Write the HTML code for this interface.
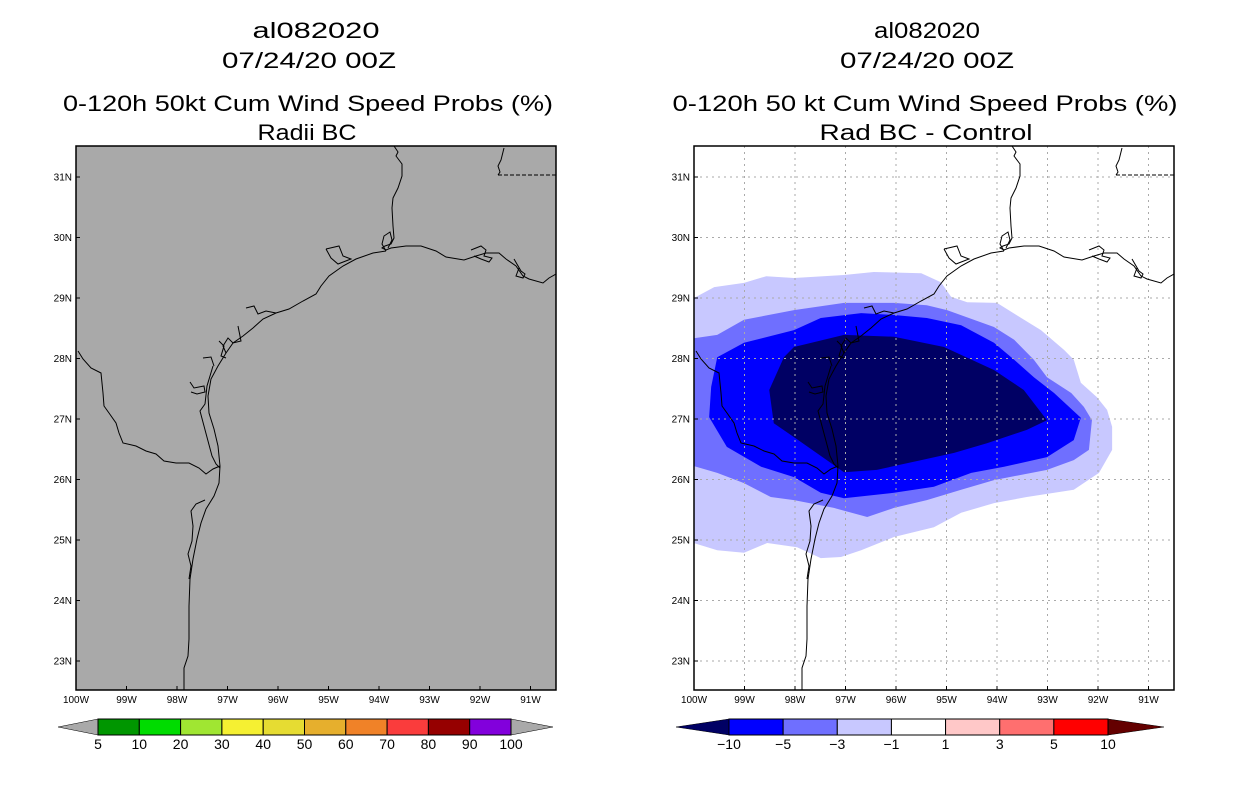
<!DOCTYPE html>
<html><head><meta charset="utf-8"><style>
html,body{margin:0;padding:0;background:#fff;}
svg{display:block;font-family:"Liberation Sans",sans-serif;}
</style></head><body>
<svg id="root" width="1236" height="800" viewBox="0 0 1236 800" xmlns="http://www.w3.org/2000/svg">
<defs>
<clipPath id="clipL"><rect x="76" y="146" width="480" height="544"/></clipPath>
<clipPath id="clipR"><rect x="694" y="146" width="480" height="544"/></clipPath>
<g id="coast" fill="none" stroke="#000" stroke-width="1">
<polyline points="318,0 322,6 320,10 326,18 326,30 322,42 317,52 316,62 317,80 318,92 315,98 309,100 306,102 310,104 315,102 330,100 345,100 360,105 370,111 388,114 400,110 410,107 423,107 430,113 440,120 447,130 453,133 467,137 473,132 480,128"/>
<polyline points="310,105 297,107 280,113 267,120 253,130 245,140 240,148 227,155 213,163 200,167 187,173 177,182 167,190 157,197 150,207 142,220 135,233 132,250 133,267 138,283 142,300 144,320 143,337 138,350 130,363 125,377 121,393 117,413 114,433 113,460 113,493 112,510 108,522 108,545"/>
<polyline points="137,220 131,240 129,258 124,265 128,280 132,295 136,310 140,318 144,322"/>
<polyline points="2,205 7,213 15,222 25,227 27,247 28,260 33,267 40,277 43,287 47,297 60,300 70,305 80,308 88,315 100,317 113,317 123,322 130,328 137,323 144,320"/>
<polyline points="129,354 120,358 115,365 117,380 116,395 112,408 115,420 113,433"/>
<polyline points="310,105 306,98 308,90 314,86 316,94 312,102"/>
<polyline points="250,103 263,100 267,110 275,113 262,118 255,112 250,103"/>
<polyline points="395,104 405,100 410,104 408,110 416,112 413,116 405,113 398,110"/>
<polyline points="170,162 178,160 182,168 190,165 200,167"/>
<polyline points="162,180 165,195 157,197 152,192 147,200 150,207"/>
<polyline points="143,195 148,200 145,210 150,212"/>
<polyline points="127,212 135,211 138,220"/>
<polyline points="114,236 118,242 128,240 129,246 121,248 115,246"/>
<polyline points="438,113 445,125 449,128 447,132 440,130 443,122"/>
<polyline points="428,2 425,14 422,20 424,26 422,29"/>
<line x1="422" y1="29" x2="480" y2="29" stroke-dasharray="4,2"/>
</g>
</defs>
<style>.t{font-size:22px;fill:#000}.ax{font-size:10px;fill:#000}.cb{font-size:14px;fill:#000}</style>

<g>
<text class="t" x="316" y="38" text-anchor="middle" textLength="127" lengthAdjust="spacingAndGlyphs">al082020</text>
<text class="t" x="309" y="68" text-anchor="middle" textLength="174" lengthAdjust="spacingAndGlyphs">07/24/20 00Z</text>
<text class="t" x="308" y="111" text-anchor="middle" textLength="490" lengthAdjust="spacingAndGlyphs">0-120h 50kt Cum Wind Speed Probs (%)</text>
<text class="t" x="307" y="140" text-anchor="middle" textLength="99" lengthAdjust="spacingAndGlyphs">Radii BC</text>
</g>
<g>
<text class="t" x="927" y="38" text-anchor="middle" textLength="106" lengthAdjust="spacingAndGlyphs">al082020</text>
<text class="t" x="927" y="68" text-anchor="middle" textLength="174" lengthAdjust="spacingAndGlyphs">07/24/20 00Z</text>
<text class="t" x="925" y="111" text-anchor="middle" textLength="505" lengthAdjust="spacingAndGlyphs">0-120h 50 kt Cum Wind Speed Probs (%)</text>
<text class="t" x="926" y="140" text-anchor="middle" textLength="213" lengthAdjust="spacingAndGlyphs">Rad BC - Control</text>
</g>

<g>
<rect x="76" y="146" width="480" height="544" fill="#a9a9a9"/>
<g clip-path="url(#clipL)"><use href="#coast" transform="translate(76,146)"/></g>
<rect x="76" y="146" width="480" height="544" fill="none" stroke="#000" stroke-width="1.5"/>
<g id="axL"></g>
</g>

<g>
<rect x="694" y="146" width="480" height="544" fill="#fff"/>
<g clip-path="url(#clipR)">
<g id="contours"></g>
<g id="gridR"></g>
<use href="#coast" transform="translate(694,146)"/>
</g>
<rect x="694" y="146" width="480" height="544" fill="none" stroke="#000" stroke-width="1.5"/>
<g id="axR"></g>
</g>

<g id="cbL"></g>
<g id="cbR"></g>
</svg>
<script>
const lonTicks = [100,99,98,97,96,95,94,93,92,91];
const latTicks = [31,30,29,28,27,26,25,24,23];
const probLevels = [5,10,20,30,40,50,60,70,80,90,100];
const probColors = ["#009600","#00dc00","#a0e632","#f5f032","#e6dc32","#e6af2d","#f08228","#fa3c3c","#960000","#8200dc"];
const diffLevels = [-10,-5,-3,-1,1,3,5,10];
const diffColors = ["#0000ff","#6f6fff","#c8c8ff","#ffffff","#ffc8c8","#ff6f6f","#ff0000"];
const diffLow = "#000064", diffHigh = "#640000";
const contLight = [[100,29],[99.6,29.18],[99.01,29.25],[98.57,29.36],[98.02,29.33],[97.03,29.38],[96.44,29.43],[95.5,29.41],[95.11,29.26],[94.91,29.02],[94.59,28.93],[94,28.92],[93.52,28.67],[93.13,28.47],[92.67,28.14],[92.48,27.98],[92.34,27.6],[92.02,27.36],[91.82,27.15],[91.72,26.87],[91.72,26.49],[91.98,26.11],[92.48,25.83],[93.41,25.71],[94.06,25.61],[94.71,25.45],[95.25,25.21],[96.04,25.05],[96.69,24.83],[97.09,24.72],[97.49,24.7],[97.96,24.88],[98.55,24.95],[99.01,24.79],[99.54,24.83],[100.2,25.0]];
const contMedium = [[100.2,28.31],[99.54,28.39],[99.01,28.64],[98.02,28.8],[97.03,28.92],[96.04,28.92],[95.39,28.88],[94.99,28.8],[94.06,28.52],[93.66,28.31],[93.27,27.98],[93.01,27.69],[92.53,27.43],[92.28,27.2],[92.12,26.98],[92.18,26.49],[92.48,26.32],[93.01,26.16],[94.06,25.99],[94.71,25.83],[95.39,25.66],[96.04,25.53],[96.57,25.38],[97.23,25.53],[98.02,25.66],[98.48,25.71],[99.01,25.94],[99.54,26.11],[100.2,26.27]];
const contBlue = [[99.54,28.02],[99.01,28.26],[98.02,28.47],[97.49,28.67],[96.69,28.75],[96.04,28.72],[95.39,28.67],[94.71,28.55],[94.06,28.26],[93.66,27.98],[93.27,27.69],[92.87,27.43],[92.34,27.02],[92.48,26.65],[93.01,26.37],[93.86,26.21],[94.51,26.11],[95.25,25.88],[96.04,25.78],[97.03,25.69],[97.49,25.78],[98.02,26.04],[98.67,26.21],[99.35,26.54],[99.7,27.03],[99.66,27.53]];
const contNavy = [[98.22,28.02],[98.02,28.19],[97.03,28.39],[96.04,28.36],[95.05,28.19],[94.06,27.81],[93.47,27.48],[93.01,26.98],[93.41,26.82],[94.2,26.6],[94.85,26.44],[95.5,26.32],[96.38,26.16],[97.03,26.12],[97.37,26.32],[98.02,26.7],[98.42,26.93],[98.51,27.48]];

const NS="http://www.w3.org/2000/svg";
function xOf(lon, x0){ return x0 + (100 - lon) * 50.5; }
function yOf(lat){ return 298 + (29 - lat) * 60.5; }
function mk(tag, attrs, parent){ const e=document.createElementNS(NS,tag); for(const k in attrs) e.setAttribute(k,attrs[k]); parent.appendChild(e); return e; }

function axes(gid, x0){
  const g=document.getElementById(gid);
  lonTicks.forEach(l=>{
    const x=xOf(l,x0);
    const t=mk('text',{x:x,y:703,'text-anchor':'middle','class':'ax'},g);
    
    
    t.textContent=l+'W';
    mk('line',{x1:x,y1:690,x2:x,y2:686,stroke:'#000'},g);
  });
  latTicks.forEach(la=>{
    const y=yOf(la);
    const t=mk('text',{x:x0-4,y:y+3.5,'text-anchor':'end','class':'ax'},g);
    
    
    t.textContent=la+'N';
    mk('line',{x1:x0,y1:y,x2:x0+4,y2:y,stroke:'#000'},g);
  });
}
axes('axL',76);
axes('axR',694);

const gr=document.getElementById('gridR');
lonTicks.forEach(l=>{ if(l<100){ const x=xOf(l,694); mk('line',{x1:x,y1:146,x2:x,y2:690,stroke:'#aaa','stroke-dasharray':'2,4'},gr);} });
latTicks.forEach(la=>{ const y=yOf(la); mk('line',{x1:694,y1:y,x2:1174,y2:y,stroke:'#aaa','stroke-dasharray':'2,4'},gr); });

const cg=document.getElementById('contours');
[[contLight,"#c8c8ff","contour-minus1"],[contMedium,"#6f6fff","contour-minus3"],[contBlue,"#0000ff","contour-minus5"],[contNavy,diffLow,"contour-minus10"]].forEach(([pts,c,n])=>{
  const p=mk('polygon',{points:pts.map(q=>xOf(q[0],694)+','+yOf(q[1])).join(' '),fill:c},cg);
  
  
});

function colorbar(gid, x0, x1, tl, tr, levels, colors, lowC, highC){
  const g=document.getElementById(gid);
  const y0=719,y1=735,ym=727, n=colors.length, w=(x1-x0)/n;
  const a=mk('polygon',{points:`${tl},${ym} ${x0},${y0} ${x0},${y1}`,fill:lowC,stroke:'#000','stroke-width':0.5},g);
  
  
  const b=mk('polygon',{points:`${tr},${ym} ${x1},${y0} ${x1},${y1}`,fill:highC,stroke:'#000','stroke-width':0.5},g);
  
  
  colors.forEach((c,i)=>{
    const r=mk('rect',{x:x0+i*w,y:y0,width:w,height:y1-y0,fill:c,stroke:'#000','stroke-width':1},g);
    
    
  });
  levels.forEach((v,i)=>{
    const t=mk('text',{x:x0+i*w,y:749,'text-anchor':'middle','class':'cb'},g);
    
    
    t.textContent=String(v).replace('-','\u2212');
  });
}
colorbar('cbL',98,511,58,553,probLevels,probColors,"#a9a9a9","#a9a9a9");
colorbar('cbR',729,1108,676,1164,diffLevels,diffColors,diffLow,diffHigh);
</script>
</body></html>
